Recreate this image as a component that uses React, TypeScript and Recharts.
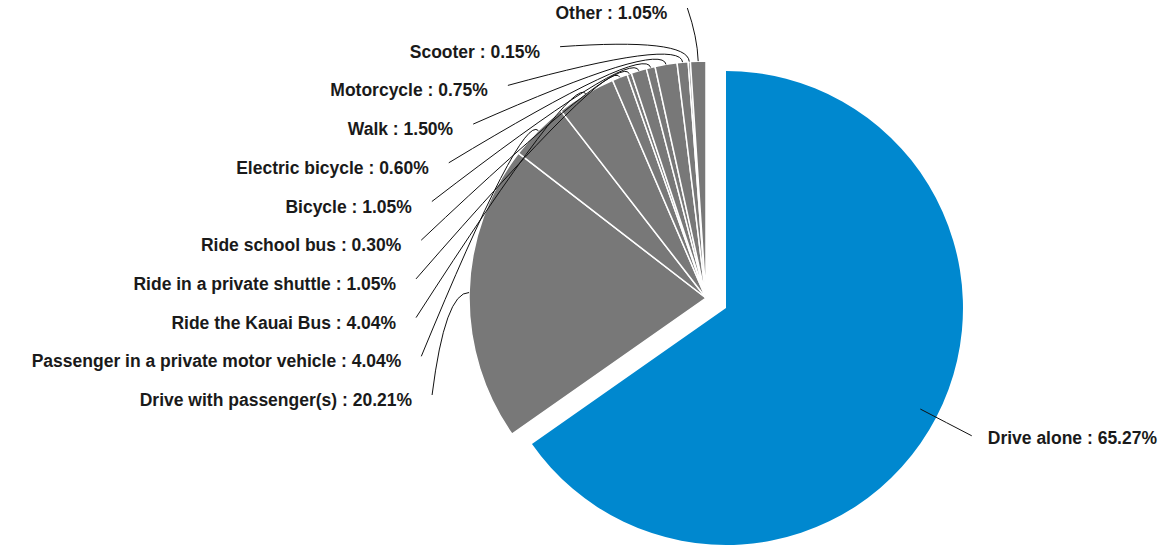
import { Cell, Pie, PieChart } from 'recharts';

const categories = [
  'Drive alone',
  'Drive with passenger(s)',
  'Passenger in a private motor vehicle',
  'Ride the Kauai Bus',
  'Ride in a private shuttle',
  'Ride school bus',
  'Bicycle',
  'Electric bicycle',
  'Walk',
  'Motorcycle',
  'Scooter',
  'Other',
];
const shares = [65.27, 20.21, 4.04, 4.04, 1.05, 0.3, 1.05, 0.6, 1.5, 0.75, 0.15, 1.05];

const data = categories.map((name, i) => ({ name, value: shares[i] }));

const BLUE = '#0088cf';
const GRAY = '#787878';
const RAD = Math.PI / 180;
const FONT = '"Liberation Sans", Arial, sans-serif';
const FONT_SIZE = 17.5;

const polar = (cx: number, cy: number, r: number, angle: number) => ({
  x: cx + Math.cos(-angle * RAD) * r,
  y: cy + Math.sin(-angle * RAD) * r,
});

// gray labels sit on a circle left of the pie, evenly spaced vertically
const LABEL_R = 290.6;
const LABEL_STEP = 38.7;

function renderGrayLabel(props: any) {
  const { cx, cy, midAngle, outerRadius, index, value, name } = props;
  if (index === 0) return <g key="l0" />;
  const endY = cy - 290 + (categories.length - 1 - index) * LABEL_STEP;
  const dy = endY - cy;
  const endX = cx - Math.sqrt(Math.max(LABEL_R * LABEL_R - dy * dy, 0));
  const p0 = polar(cx, cy, outerRadius, midAngle);
  const p1 = polar(cx, cy, outerRadius + 24, midAngle);
  return (
    <g key={`l${index}`}>
      <path
        d={`M${p0.x},${p0.y} Q${p1.x},${p1.y} ${endX},${endY}`}
        fill="none"
        stroke="#111"
        strokeWidth={1}
      />
      <text
        x={endX - 20}
        y={endY + 5}
        textAnchor="end"
        dominantBaseline="central"
        fontFamily={FONT}
        fontWeight="bold"
        fontSize={FONT_SIZE}
        fill="#1a1a1a"
      >
        {`${name} : ${Number(value).toFixed(2)}%`}
      </text>
    </g>
  );
}

function renderBlueLabel(props: any) {
  const { cx, cy, midAngle, outerRadius, index, value, name } = props;
  if (index !== 0) return <g key={`b${index}`} />;
  const p0 = polar(cx, cy, outerRadius - 18, midAngle);
  const p1 = polar(cx, cy, outerRadius + 12, midAngle);
  const p2 = polar(cx, cy, outerRadius + 40, midAngle);
  return (
    <g key="b0">
      <path
        d={`M${p0.x},${p0.y} Q${p1.x},${p1.y} ${p2.x},${p2.y}`}
        fill="none"
        stroke="#111"
        strokeWidth={1}
      />
      <text
        x={p2.x + 16}
        y={p2.y + 2}
        textAnchor="start"
        dominantBaseline="central"
        fontFamily={FONT}
        fontWeight="bold"
        fontSize={FONT_SIZE}
        fill="#1a1a1a"
      >
        {`${name} : ${Number(value).toFixed(2)}%`}
      </text>
    </g>
  );
}

export default function App() {
  return (
    <div style={{ position: 'absolute', left: 0, top: 0, width: 1168, height: 550, background: '#fff' }}>
      <PieChart width={1168} height={550} margin={{ top: 0, right: 0, bottom: 0, left: 0 }}>
        <Pie
          data={data}
          dataKey="value"
          nameKey="name"
          cx={706}
          cy={298}
          outerRadius={237}
          startAngle={90}
          endAngle={-270}
          label={renderGrayLabel}
          labelLine={false}
          isAnimationActive={false}
        >
          {data.map((d, i) => (
            <Cell
              key={d.name}
              fill={i === 0 ? 'transparent' : GRAY}
              stroke={i === 0 ? 'none' : '#ffffff'}
              strokeWidth={1.5}
            />
          ))}
        </Pie>
        <Pie
          data={data}
          dataKey="value"
          nameKey="name"
          cx={726}
          cy={308}
          outerRadius={237}
          startAngle={90}
          endAngle={-270}
          label={renderBlueLabel}
          labelLine={false}
          isAnimationActive={false}
        >
          {data.map((d, i) => (
            <Cell key={d.name} fill={i === 0 ? BLUE : 'transparent'} stroke="none" />
          ))}
        </Pie>
      </PieChart>
    </div>
  );
}
